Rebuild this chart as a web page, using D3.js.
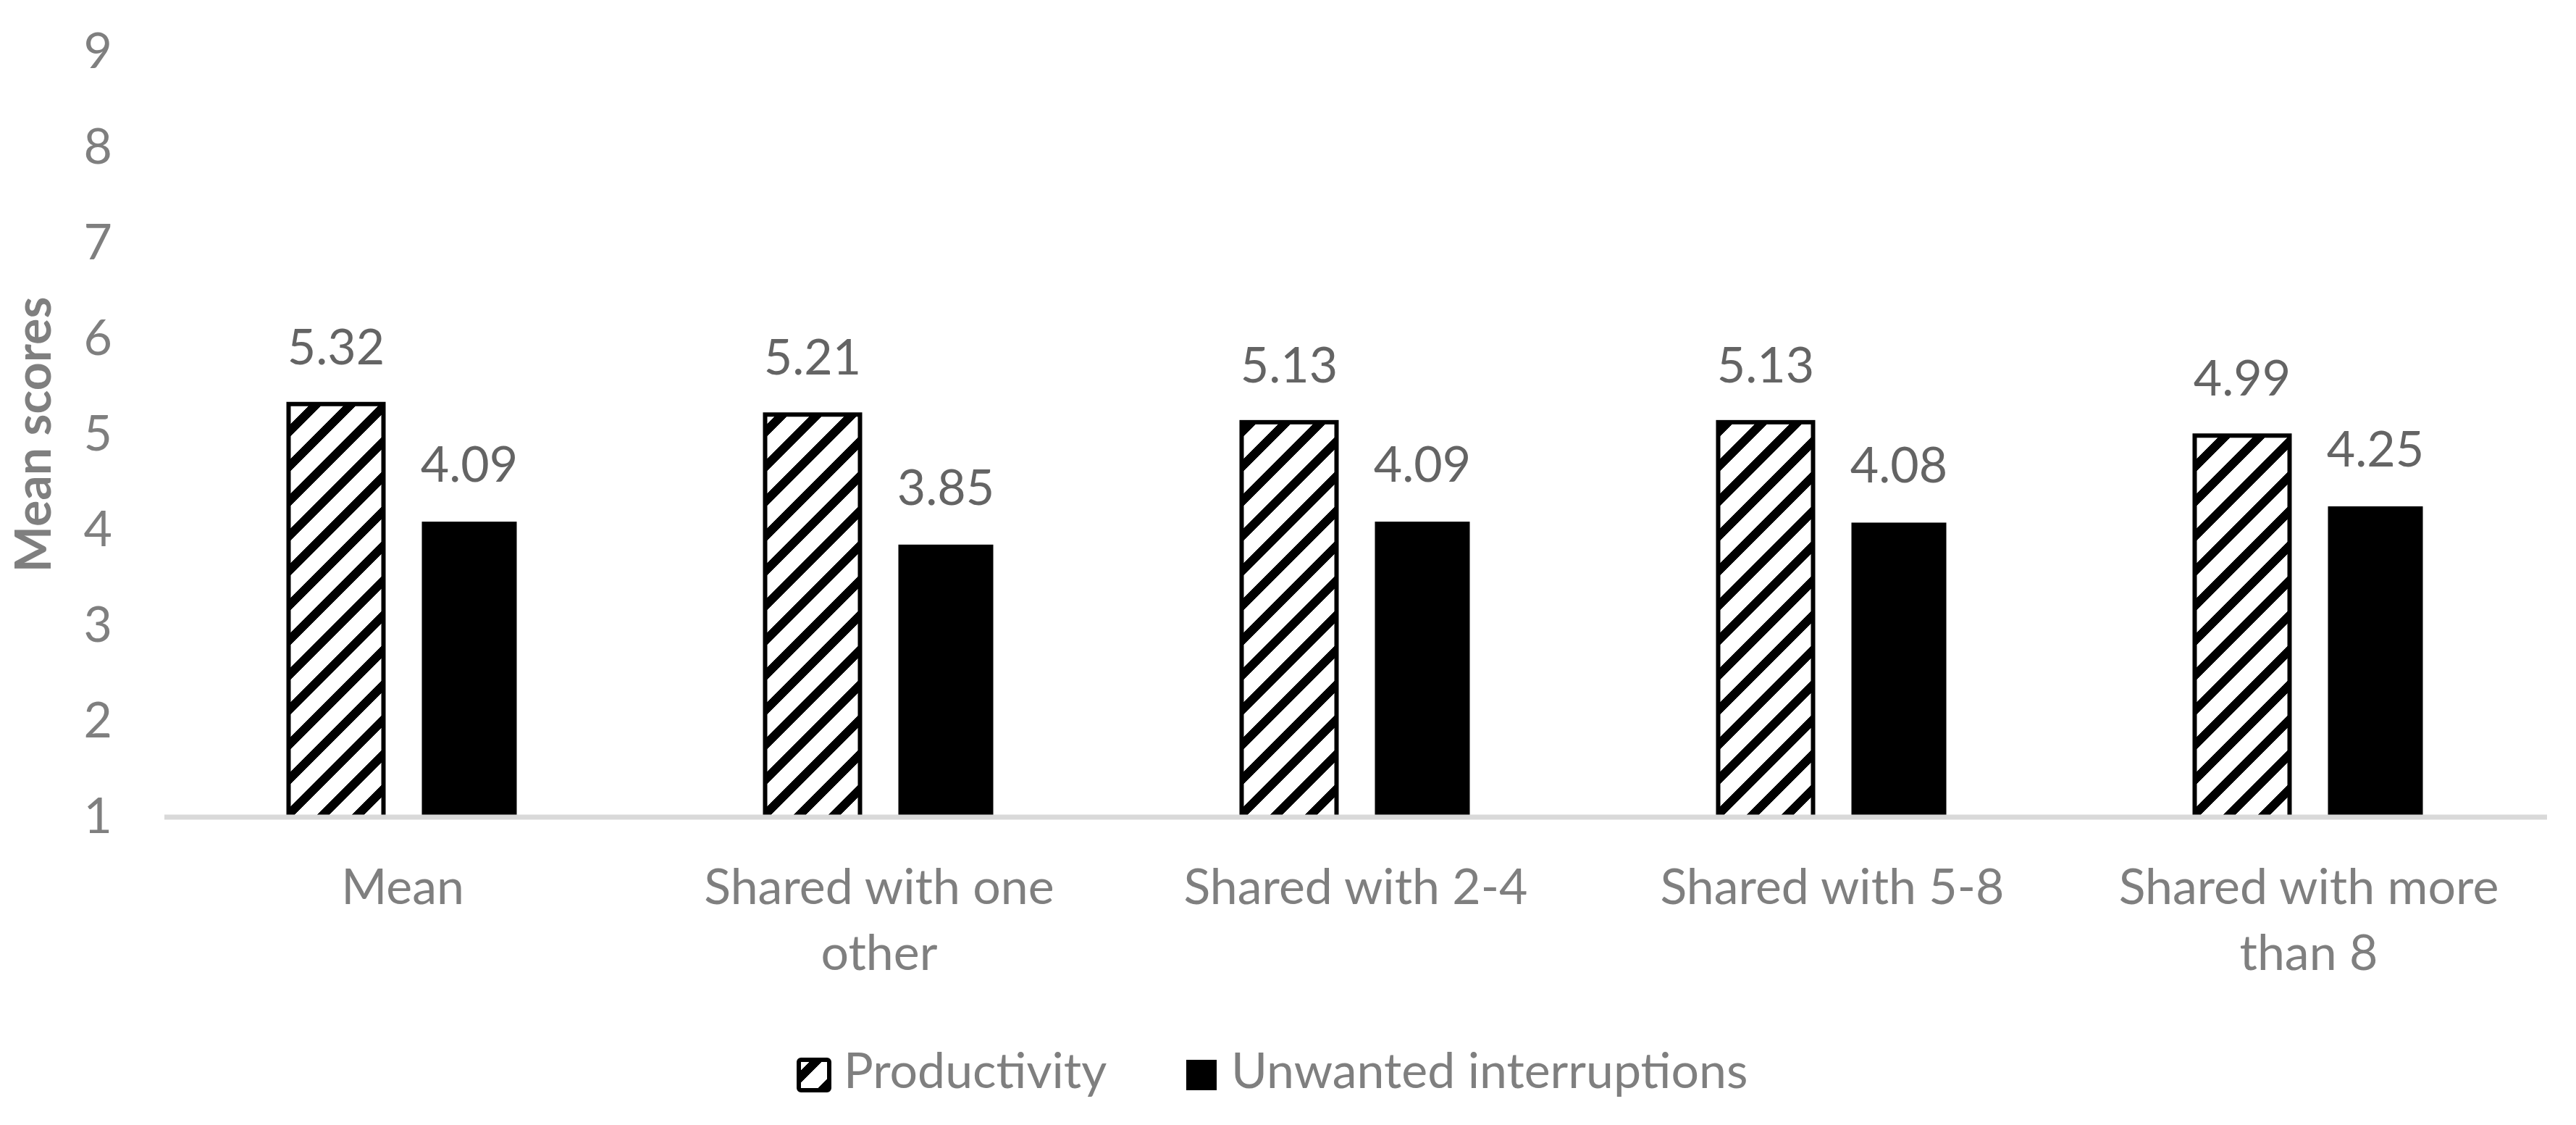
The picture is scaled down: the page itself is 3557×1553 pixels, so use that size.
<!DOCTYPE html>
<html>
<head>
<meta charset="utf-8">
<script src="https://cdn.jsdelivr.net/npm/d3@7"></script>
<style>
  html, body { margin: 0; padding: 0; background: #ffffff; }
  svg { display: block; }
  text { font-family: Lato, "Open Sans", sans-serif; }
</style>
</head>
<body>
<svg id="chart" width="3557" height="1553"></svg>
<script>
// ---- data ----
const categories = ["Mean", "Shared with one other", "Shared with 2-4", "Shared with 5-8", "Shared with more than 8"];
const seriesNames = ["Productivity", "Unwanted interruptions"];
const productivity = [5.32, 5.21, 5.13, 5.13, 4.99];
const unwanted = [4.09, 3.85, 4.09, 4.08, 4.25];
const yTicks = [1, 2, 3, 4, 5, 6, 7, 8, 9];
const yTitle = "Mean scores";

// ---- layout ----
const W = 3557, H = 1553;
const plotLeft = 227, plotRight = 3517, plotTop = 72, plotBottom = 1128;
const fontSize = 68;

const svg = d3.select("#chart");
svg.append("rect").attr("width", W).attr("height", H).attr("fill", "#ffffff");

// hatch pattern (wide upward diagonal)
const defs = svg.append("defs");
const pat = defs.append("pattern")
  .attr("id", "hatch")
  .attr("patternUnits", "userSpaceOnUse")
  .attr("width", 48).attr("height", 48);
pat.append("rect").attr("width", 48).attr("height", 48).attr("fill", "#ffffff");
pat.append("path")
  .attr("d", "M-24,24 L24,-24 M0,48 L48,0 M24,72 L72,24")
  .attr("stroke", "#000000")
  .attr("stroke-width", 12)
  .attr("shape-rendering", "crispEdges");

const x0 = d3.scaleBand().domain(categories).range([plotLeft, plotRight]).paddingInner(0).paddingOuter(0);
const x1 = d3.scaleBand().domain(seriesNames).range([0, x0.bandwidth()]).paddingInner(0.288).paddingOuter(0.932);
const y = d3.scaleLinear().domain([1, 9]).range([plotBottom, plotTop]);

const rows = categories.map((c, i) => ({
  cat: c,
  values: [
    { series: seriesNames[0], value: productivity[i] },
    { series: seriesNames[1], value: unwanted[i] }
  ]
}));

// y axis (labels only)
const yAxis = d3.axisLeft(y).tickValues(yTicks).tickSize(0).tickPadding(72).tickFormat(d3.format("d"));
const gy = svg.append("g").attr("transform", `translate(${plotLeft},0)`).call(yAxis);
gy.select(".domain").remove();
gy.selectAll("text")
  .attr("font-size", fontSize)
  .attr("font-family", "Lato")
  .attr("fill", "#7f7f7f");

// bars
const groups = svg.append("g").selectAll("g").data(rows).join("g")
  .attr("transform", d => `translate(${x0(d.cat)},0)`);

groups.selectAll("rect").data(d => d.values).join("rect")
  .attr("x", d => x1(d.series))
  .attr("width", x1.bandwidth())
  .attr("y", d => y(d.value))
  .attr("height", d => y(1) - y(d.value))
  .attr("fill", d => d.series === seriesNames[0] ? "url(#hatch)" : "#000000")
  .attr("stroke", d => d.series === seriesNames[0] ? "#000000" : "none")
  .attr("stroke-width", 6);

// data labels
groups.selectAll("text.val").data(d => d.values).join("text")
  .attr("class", "val")
  .attr("x", d => x1(d.series) + x1.bandwidth() / 2)
  .attr("y", d => y(d.value) - 55)
  .attr("text-anchor", "middle")
  .attr("font-size", fontSize)
  .attr("fill", "#646464")
  .text(d => d.value.toFixed(2));

// x axis line
svg.append("line")
  .attr("x1", plotLeft).attr("x2", plotRight)
  .attr("y1", y(1)).attr("y2", y(1))
  .attr("stroke", "#d9d9d9").attr("stroke-width", 7);

// x axis labels
const xAxis = d3.axisBottom(x0).tickSize(0).tickPadding(0);
const gx = svg.append("g").attr("transform", `translate(0,${plotBottom})`).call(xAxis);
gx.select(".domain").remove();
gx.selectAll("text")
  .attr("font-size", fontSize)
  .attr("font-family", "Lato")
  .attr("fill", "#7f7f7f")
  .attr("dy", null)
  .attr("y", 120)
  .each(function(d) {
    const t = d3.select(this);
    const words = d.split(" ");
    const maxW = 620;
    t.text(null);
    let line = [];
    let lineNo = 0;
    let tspan = t.append("tspan").attr("x", 0).attr("y", 120);
    words.forEach(w => {
      line.push(w);
      tspan.text(line.join(" "));
      if (tspan.node().getComputedTextLength() > maxW && line.length > 1) {
        line.pop();
        tspan.text(line.join(" "));
        line = [w];
        lineNo++;
        tspan = t.append("tspan").attr("x", 0).attr("y", 120 + lineNo * 91).text(w);
      }
    });
  });

// y axis title
svg.append("text")
  .attr("transform", `translate(70,600) rotate(-90)`)
  .attr("text-anchor", "middle")
  .attr("font-size", fontSize)
  .attr("font-weight", "bold")
  .attr("fill", "#7f7f7f")
  .text(yTitle);

// legend
const legendItems = [
  { name: seriesNames[0], boxX: 1103, textX: 1165 },
  { name: seriesNames[1], boxX: 1638, textX: 1700 }
];
const lg = svg.append("g");
legendItems.forEach((it, i) => {
  if (i === 0) {
    lg.append("rect").attr("x", it.boxX).attr("y", 1463).attr("width", 42).attr("height", 42)
      .attr("fill", "url(#hatch)").attr("stroke", "#000000").attr("stroke-width", 6).attr("rx", 3);
  } else {
    lg.append("rect").attr("x", it.boxX).attr("y", 1463).attr("width", 42).attr("height", 42)
      .attr("fill", "#000000");
  }
  lg.append("text").attr("x", it.textX).attr("y", 1502)
    .attr("font-size", fontSize).attr("fill", "#7f7f7f").text(it.name);
});
</script>
</body>
</html>
